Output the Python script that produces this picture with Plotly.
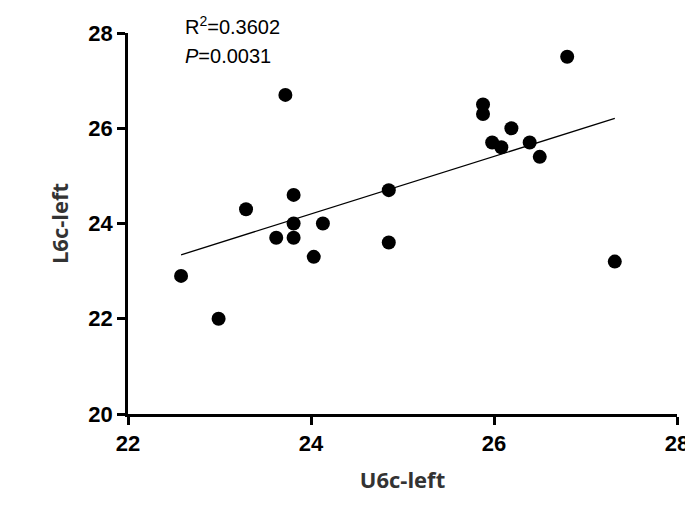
import numpy as np
import plotly.graph_objects as go

x_vals = [22.58, 22.99, 23.29, 23.62, 23.72, 23.81, 23.81, 23.81, 24.03, 24.13, 24.85, 24.85,
          25.88, 25.88, 25.98, 26.08, 26.19, 26.39, 26.5, 26.8, 27.32]
y_vals = [22.9, 22.0, 24.3, 23.7, 26.7, 24.6, 24.0, 23.7, 23.3, 24.0, 24.7, 23.6,
          26.5, 26.3, 25.7, 25.6, 26.0, 25.7, 25.4, 27.5, 23.2]
x_ticks = [22, 24, 26, 28]
y_ticks = [20, 22, 24, 26, 28]

slope, icpt = np.polyfit(x_vals, y_vals, 1)
lx = np.array([min(x_vals), max(x_vals)])

fig = go.Figure()
fig.add_trace(go.Scatter(x=lx, y=slope * lx + icpt, mode="lines",
                         line=dict(color="black", width=1.3), hoverinfo="skip"))
fig.add_trace(go.Scatter(x=x_vals, y=y_vals, mode="markers",
                         marker=dict(color="black", size=14)))

ax = dict(showline=True, linecolor="black", linewidth=2.5, ticks="outside", ticklen=8,
          tickwidth=2.5, tickcolor="black", showgrid=False, zeroline=False,
          tickfont=dict(family="Liberation Sans", size=22, color="black", weight="bold"))
fig.update_xaxes(range=[22, 28], tickvals=x_ticks,
                 title=dict(text="U6c-left", font=dict(family="Open Sans", size=22, color="#333", weight="bold"), standoff=18), **ax)
fig.update_yaxes(range=[20, 28], tickvals=y_ticks,
                 title=dict(text="L6c-left", font=dict(family="Open Sans", size=22, color="#333", weight="bold"), standoff=14), **ax)
fig.add_annotation(x=0.1, y=1.02, xref="paper", yref="paper", xanchor="left", yanchor="middle",
                   text="R<sup>2</sup>=0.3602", showarrow=False,
                   font=dict(family="Liberation Sans", size=20, color="black"))
fig.add_annotation(x=0.1, y=0.94, xref="paper", yref="paper", xanchor="left", yanchor="middle",
                   text="<i>P</i>=0.0031", showarrow=False,
                   font=dict(family="Liberation Sans", size=20, color="black"))
fig.update_layout(width=693, height=508, margin=dict(l=120, r=18, t=25, b=102),
                  plot_bgcolor="white", paper_bgcolor="white", showlegend=False)
fig.write_html("out.html")
